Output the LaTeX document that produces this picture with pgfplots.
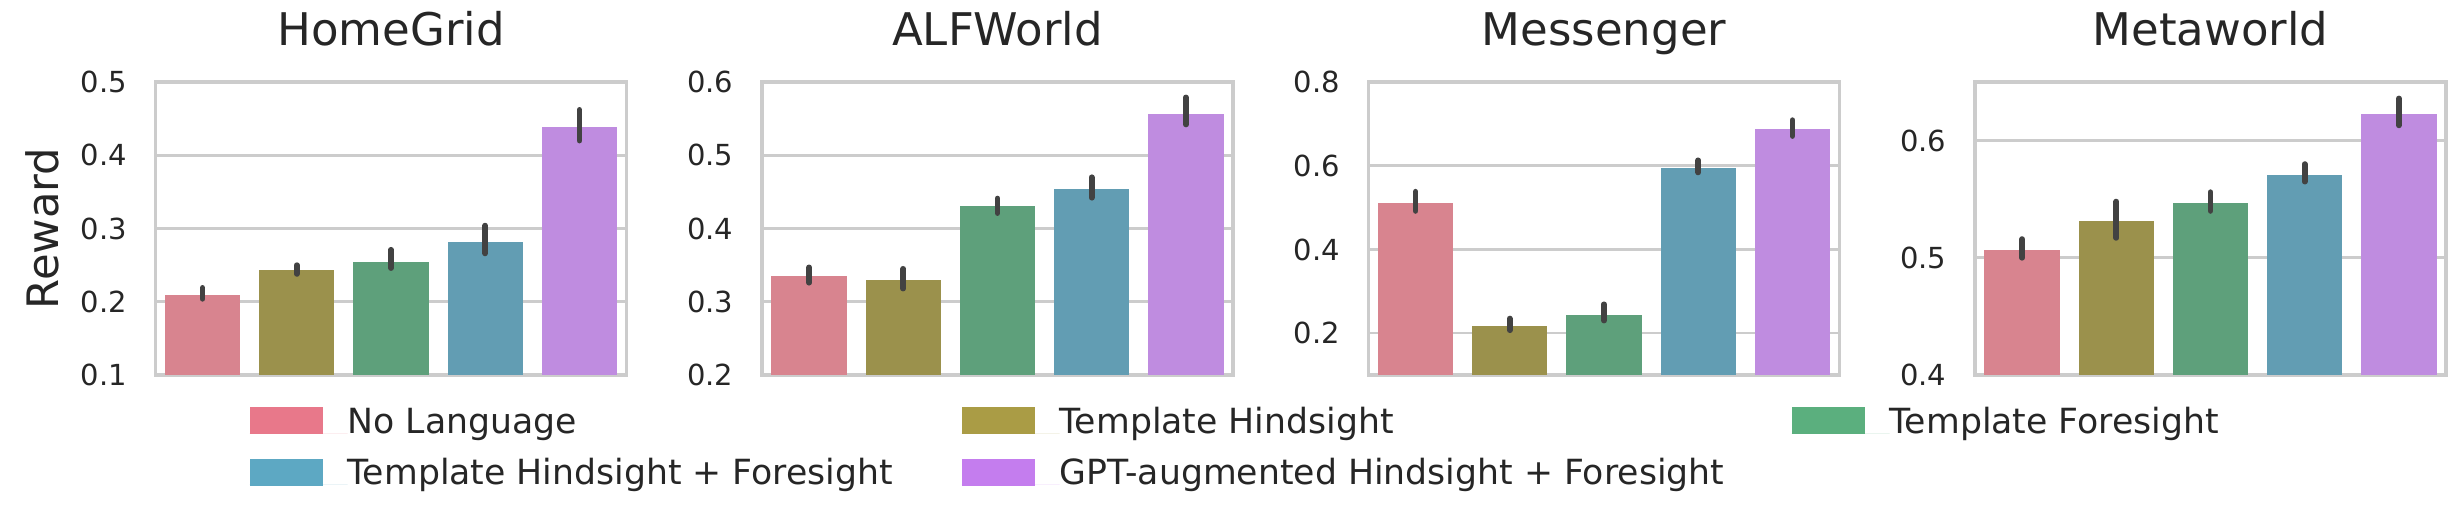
\documentclass[border=0pt]{standalone}
\usepackage{fontspec}
\setmainfont{DejaVu Sans}
\usepackage{pgfplots}
\pgfplotsset{compat=1.18}
\definecolor{textc}{HTML}{262626}
\definecolor{gridc}{HTML}{CCCCCC}
\definecolor{errc}{HTML}{424242}
\definecolor{cA}{HTML}{D8848F}
\definecolor{cB}{HTML}{9B914C}
\definecolor{cC}{HTML}{5EA07B}
\definecolor{cD}{HTML}{629DB3}
\definecolor{cE}{HTML}{BF8CE0}
\definecolor{lA}{HTML}{E8788A}
\definecolor{lB}{HTML}{AA9C45}
\definecolor{lC}{HTML}{5BAF7E}
\definecolor{lD}{HTML}{5DA8C3}
\definecolor{lE}{HTML}{C47DEE}
\pgfplotsset{
  panel/.style={
    scale only axis, width=141.3pt, height=87.9pt,
    anchor=south west,
    xmin=-0.5, xmax=4.5, xtick=\empty,
    ybar, bar width=0.8, bar shift=0pt,
    axis line style={draw=gridc, line width=1.1pt},
    ymajorgrids, grid style={draw=gridc, line width=0.8pt},
    major tick length=0pt,
    tick label style={font=\fontsize{8.7}{10}\selectfont, text=textc},
    yticklabel style={inner sep=0pt, xshift=-8.4pt, /pgf/number format/fixed, /pgf/number format/fixed zerofill, /pgf/number format/precision=1},
    /pgf/number format/assume math mode=true,
    title style={font=\fontsize{13.5}{16}\selectfont, text=textc, anchor=base, yshift=5.1pt},
  },
  b/.style={fill=#1, draw=none, forget plot,
    error bars/.cd, y dir=both, y explicit, error mark=none,
    error bar style={line width=1.7pt, draw=errc, line cap=round}},
  lg/.style={fill=#1, draw=none,
    legend image code/.code={\fill[##1] (0pt,-0.3pt) rectangle (21.9pt,7.8pt); \path (0pt,0pt) -- (29.4pt,0pt);}},
}
\begin{document}
\begin{tikzpicture}
\useasboundingbox (0pt,0pt) rectangle (738.6pt,-151.2pt);
% HomeGrid
\begin{axis}[panel, at={(46.65pt,-112.5pt)}, title={HomeGrid},
  ymin=0.1, ymax=0.5, ytick={0.1,0.2,0.3,0.4,0.5},
  ylabel={Reward}, ylabel style={at={(axis description cs:-0.240,0.5)}, anchor=center, font=\fontsize{13}{15}\selectfont, text=textc},
  legend columns=3,
  legend style={at={(axis description cs:0.1985,-0.1069)}, anchor=north west, draw=none, fill=none, inner sep=0pt,
    row sep=5.05pt, font=\fontsize{10.4}{12.5}\selectfont, text=textc,
    nodes={inner sep=0pt, text height=7.9pt, text depth=2.45pt}, cells={anchor=base west}},
]
\addplot[b=cA] coordinates {(0,0.209) += (0,0.010) -= (0,0.005)};
\addplot[b=cB] coordinates {(1,0.243) += (0,0.007) -= (0,0.005)};
\addplot[b=cC] coordinates {(2,0.254) += (0,0.017) -= (0,0.008)};
\addplot[b=cD] coordinates {(3,0.282) += (0,0.022) -= (0,0.016)};
\addplot[b=cE] coordinates {(4,0.439) += (0,0.023) -= (0,0.019)};
\addlegendimage{lg=lA}\addlegendentry{\makebox[184.2pt][l]{No Language}}
\addlegendimage{lg=lB}\addlegendentry{\makebox[219.6pt][l]{Template Hindsight}}
\addlegendimage{lg=lC}\addlegendentry{Template Foresight}
\addlegendimage{lg=lD}\addlegendentry{\makebox[184.2pt][l]{Template Hindsight + Foresight}}
\addlegendimage{lg=lE}\addlegendentry{\makebox[219.6pt][l]{GPT-augmented Hindsight + Foresight}}
\end{axis}
% ALFWorld
\begin{axis}[panel, at={(228.6pt,-112.5pt)}, title={ALFWorld},
  ymin=0.2, ymax=0.6, ytick={0.2,0.3,0.4,0.5,0.6}]
\addplot[b=cA] coordinates {(0,0.335) += (0,0.012) -= (0,0.009)};
\addplot[b=cB] coordinates {(1,0.330) += (0,0.015) -= (0,0.012)};
\addplot[b=cC] coordinates {(2,0.431) += (0,0.010) -= (0,0.010)};
\addplot[b=cD] coordinates {(3,0.454) += (0,0.016) -= (0,0.012)};
\addplot[b=cE] coordinates {(4,0.557) += (0,0.022) -= (0,0.015)};
\end{axis}
% Messenger
\begin{axis}[panel, at={(410.55pt,-112.5pt)}, title={Messenger},
  ymin=0.1, ymax=0.8, ytick={0.2,0.4,0.6,0.8}]
\addplot[b=cA] coordinates {(0,0.512) += (0,0.026) -= (0,0.020)};
\addplot[b=cB] coordinates {(1,0.218) += (0,0.017) -= (0,0.011)};
\addplot[b=cC] coordinates {(2,0.244) += (0,0.025) -= (0,0.014)};
\addplot[b=cD] coordinates {(3,0.595) += (0,0.018) -= (0,0.011)};
\addplot[b=cE] coordinates {(4,0.687) += (0,0.022) -= (0,0.016)};
\end{axis}
% Metaworld
\begin{axis}[panel, at={(592.5pt,-112.5pt)}, title={Metaworld},
  ymin=0.4, ymax=0.65, ytick={0.4,0.5,0.6}]
\addplot[b=cA] coordinates {(0,0.507) += (0,0.009) -= (0,0.007)};
\addplot[b=cB] coordinates {(1,0.531) += (0,0.017) -= (0,0.014)};
\addplot[b=cC] coordinates {(2,0.547) += (0,0.009) -= (0,0.007)};
\addplot[b=cD] coordinates {(3,0.571) += (0,0.009) -= (0,0.006)};
\addplot[b=cE] coordinates {(4,0.623) += (0,0.013) -= (0,0.010)};
\end{axis}
\end{tikzpicture}
\end{document}
